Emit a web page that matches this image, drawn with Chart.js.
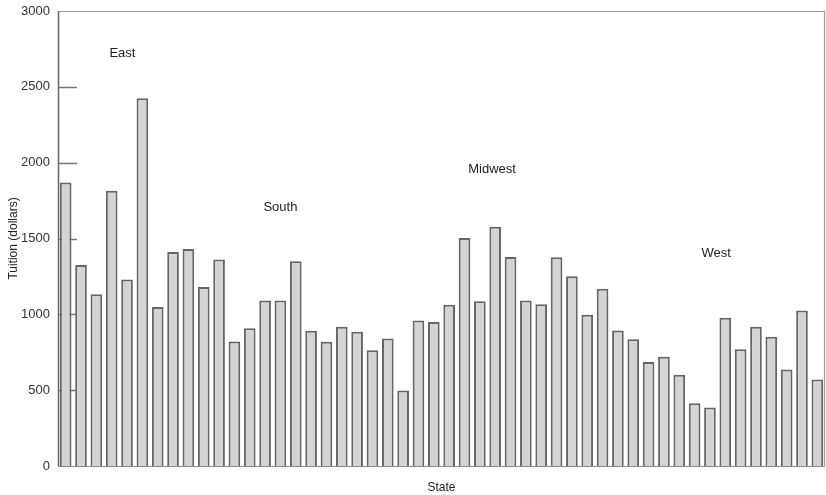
<!DOCTYPE html>
<html>
<head>
<meta charset="utf-8">
<script src="https://cdn.jsdelivr.net/npm/chart.js@4.4.1/dist/chart.umd.min.js"></script>
<style>
html,body{margin:0;padding:0;background:#fff;}
#wrap{width:826px;height:495px;position:relative;}
</style>
</head>
<body>
<div id="wrap"><canvas id="c" width="826" height="495"></canvas></div>
<script>
const categories = ['1','2','3','4','5','6','7','8','9','10','11','12','13','14','15','16','17','18','19','20','21','22','23','24','25','26','27','28','29','30','31','32','33','34','35','36','37','38','39','40','41','42','43','44','45','46','47','48','49','50'];
const tuition = [1870,1326,1132,1815,1229,2425,1049,1411,1431,1181,1361,821,908,1091,1091,1350,891,819,918,885,764,841,498,959,950,1064,1503,1086,1578,1378,1091,1066,1376,1251,997,1168,893,836,685,720,602,413,386,977,770,918,852,637,1025,571];
const yTicks = [0,500,1000,1500,2000,2500,3000];
const regionLabels = ['East','South','Midwest','West'];
const regionIndex = [3.7, 14.0, 27.8, 42.4];
const regionValue = [2717, 1703, 1953, 1400];

const FONT = '"Liberation Sans", Arial, Helvetica, sans-serif';

const decorPlugin = {
  id: 'decor',
  beforeDatasetsDraw(chart) {
    const ctx = chart.ctx, y = chart.scales.y, a = chart.chartArea;
    ctx.save();
    ctx.strokeStyle = '#777';
    ctx.lineWidth = 1.5;
    yTicks.forEach(v => {
      if (v === 0 || v === 3000) return;
      const py = Math.round(y.getPixelForValue(v)) + 0.5;
      ctx.beginPath();
      ctx.moveTo(a.left, py);
      ctx.lineTo(a.left + 19, py);
      ctx.stroke();
    });
    ctx.restore();
  },
  afterDatasetsDraw(chart) {
    const ctx = chart.ctx, a = chart.chartArea, x = chart.scales.x, y = chart.scales.y;
    ctx.save();
    ctx.strokeStyle = '#999';
    ctx.lineWidth = 1.2;
    ctx.beginPath();
    ctx.moveTo(a.left, a.top + 0.5);
    ctx.lineTo(a.right - 0.5, a.top + 0.5);
    ctx.lineTo(a.right - 0.5, a.bottom);
    ctx.stroke();
    ctx.strokeStyle = '#888';
    ctx.beginPath();
    ctx.moveTo(a.left, a.bottom + 0.5);
    ctx.lineTo(a.right, a.bottom + 0.5);
    ctx.stroke();
    ctx.strokeStyle = '#666';
    ctx.lineWidth = 1.5;
    ctx.beginPath();
    ctx.moveTo(a.left + 0.5, a.top);
    ctx.lineTo(a.left + 0.5, a.bottom);
    ctx.stroke();
    ctx.fillStyle = '#222';
    ctx.font = '13px ' + FONT;
    ctx.textAlign = 'center';
    ctx.textBaseline = 'middle';
    regionLabels.forEach((t, i) => {
      ctx.fillText(t, x.getPixelForValue(regionIndex[i]), y.getPixelForValue(regionValue[i]));
    });
    ctx.restore();
  }
};

new Chart(document.getElementById('c'), {
  type: 'bar',
  data: {
    labels: categories,
    datasets: [{
      data: tuition,
      backgroundColor: '#d4d4d4',
      borderColor: '#666',
      borderWidth: 2,
      categoryPercentage: 1.0,
      barPercentage: 0.76
    }]
  },
  options: {
    responsive: false,
    animation: false,
    layout: { padding: { left: 0, right: 1, top: 11, bottom: 0 } },
    plugins: { legend: { display: false }, tooltip: { enabled: false } },
    scales: {
      x: {
        grid: { display: false },
        border: { display: false },
        ticks: { display: false },
        title: { display: true, text: 'State', color: '#222', font: { family: FONT, size: 12 }, padding: 0 },
        afterFit(s) { s.height = 29; s.paddingLeft = 0; s.paddingRight = 0; }
      },
      y: {
        min: 0, max: 3000,
        afterBuildTicks(s) { s.ticks = yTicks.map(v => ({ value: v })); },
        grid: { display: false, drawTicks: false },
        border: { display: false },
        ticks: { color: '#333', padding: 8, font: { family: FONT, size: 13 }, callback: v => String(v) },
        title: { display: true, text: 'Tuition (dollars)', color: '#222', font: { family: FONT, size: 12 }, padding: { top: 6, bottom: 0 } },
        afterFit(s) { s.width = 58; s.paddingTop = 0; s.paddingBottom = 0; }
      }
    }
  },
  plugins: [decorPlugin]
});
</script>
</body>
</html>
